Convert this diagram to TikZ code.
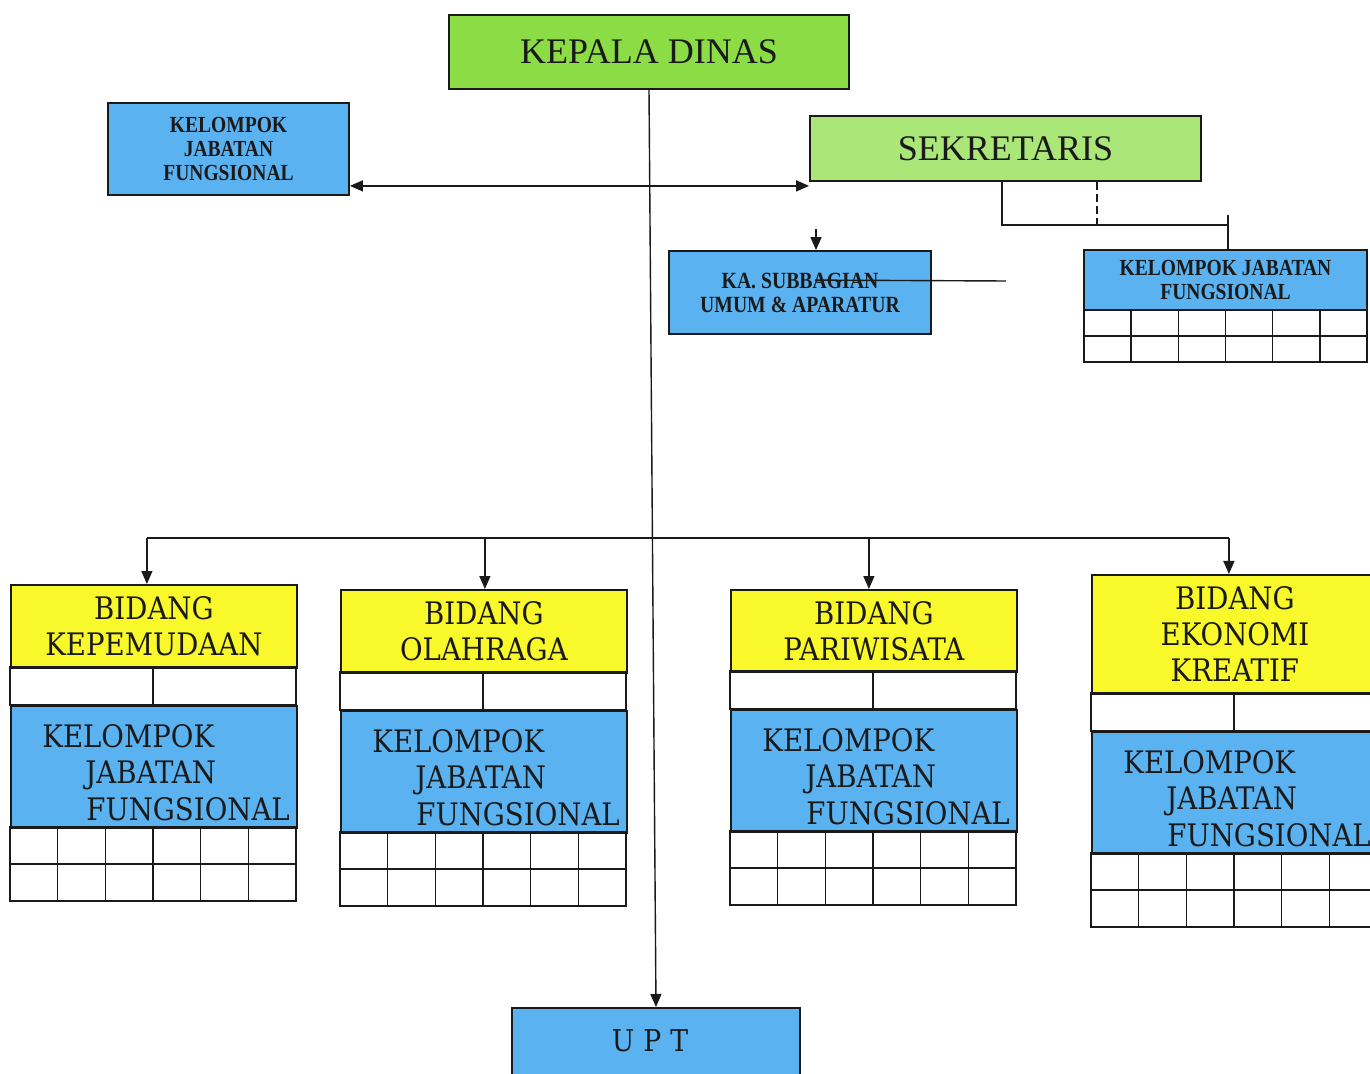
\documentclass[tikz,border=0pt]{standalone}
\usepackage{fontspec}
\setmainfont{Liberation Serif}
\newfontfamily\schfont[FakeStretch=0.89]{DejaVu Serif}
\newfontfamily\condbold[FakeStretch=0.85]{Liberation Serif Bold}
\usetikzlibrary{arrows.meta,calc}
\definecolor{kgreen}{HTML}{8CDC46}
\definecolor{sgreen}{HTML}{AAE678}
\definecolor{kblue}{HTML}{5AB2F0}
\definecolor{kyellow}{HTML}{F8F82A}
\definecolor{ink}{HTML}{1A1A1A}
\tikzset{
  box/.style={draw=ink, line width=0.9pt, inner sep=0pt, align=center, text=ink},
  smallbold/.style={font=\condbold\fontsize{11.5}{12}\selectfont},
  bidhead/.style={box, fill=kyellow, minimum width=143pt, font=\schfont\fontsize{15.5}{18}\selectfont},
  jfbox/.style={box, fill=kblue},
  jftext/.style={inner sep=0pt, text=ink, font=\schfont\fontsize{15.5}{18}\selectfont},
  cell/.style={draw=ink, line width=0.7pt},
  conn/.style={draw=ink, line width=0.7pt},
}
\newcommand\jfgrid[4]{%
  \draw[cell] (#1,#2) rectangle (#3,#4);
  \draw[cell] (#1,{(#2+#4)/2}) -- (#3,{(#2+#4)/2});
  \foreach \k in {1,...,5} \draw[cell] ({#1+\k*(#3-#1)/6},#2) -- ({#1+\k*(#3-#1)/6},#4);
}
\newcommand\bidang[5]{%
  \node[bidhead, minimum height={(#4-#3)*0.5pt}, anchor=north west] (#1) at (#2,#3) {#5};
  \draw[cell] (#2,#4) rectangle ({#2+286},{#4+38});
  \draw[cell] ({#2+143},#4) -- ({#2+143},{#4+38});
  \node[jfbox, minimum width=143pt, minimum height=61pt, anchor=north west] (#1j) at (#2,{#4+38}) {};
  \node[jftext, anchor=base west] (#1a) at ({#2+32},{#4+80}) {KELOMPOK};
  \node[jftext, anchor=base west] (#1b) at ({#2+75},{#4+116}) {JABATAN};
  \node[jftext, anchor=base west] (#1c) at ({#2+76},{#4+153}) {FUNGSIONAL};
  \jfgrid{#2}{#4+160}{#2+286}{#4+234}
}
\begin{document}
\begin{tikzpicture}[x=0.5pt,y=-0.5pt, >={Triangle[length=6.5pt,width=5.5pt]}]
\useasboundingbox (0,0) rectangle (1370,1074);
\fill[white] (0,0) rectangle (1370,1074);

% top level
\node[box, fill=kgreen, minimum width=200pt, minimum height=37pt, font=\fontsize{18}{20}\selectfont] (kd) at (649,52) {KEPALA DINAS};
\node[box, fill=kblue, minimum width=120.5pt, minimum height=46pt, smallbold] (kjfL) at (228.5,149) {KELOMPOK\\JABATAN\\FUNGSIONAL};
\node[box, fill=sgreen, minimum width=195.5pt, minimum height=32.5pt, font=\fontsize{18}{20}\selectfont] (sek) at (1005.5,148.5) {SEKRETARIS};
\node[box, fill=kblue, minimum width=131pt, minimum height=41.5pt, font=\condbold\fontsize{11.6}{12}\selectfont] (ksub) at (800,292.5) {KA. SUBBAGIAN\\UMUM \& APARATUR};
\node[box, fill=kblue, minimum width=141.5pt, minimum height=30pt, smallbold] (kjfR) at (1225.5,280) {KELOMPOK JABATAN\\FUNGSIONAL};
\jfgrid{1084}{310}{1367}{362}

% UPT
\node[box, fill=kblue, minimum width=144pt, minimum height=50pt, anchor=north] (upt) at (656,1007) {};
\node[inner sep=0pt, text=ink, font=\schfont\fontsize{15}{18}\selectfont, anchor=base] (upttext) at (650,1051) {U\hspace{0.3em}P\hspace{0.3em}T};

% bidang
\bidang{b1}{10}{584}{667}{BIDANG\\KEPEMUDAAN}
\bidang{b2}{340}{589}{672}{BIDANG\\OLAHRAGA}
\bidang{b3}{730}{589}{671}{BIDANG\\PARIWISATA}
\bidang{b4}{1091}{574}{693}{BIDANG\\EKONOMI\\KREATIF}

% connectors
\draw[conn,->] (kd.south) -- (upt.north);
\draw[conn,<->] ([yshift=-2pt]kjfL.east |- sek.south west) -- ([yshift=-2pt]sek.south west);
\draw[conn,->] ([xshift=8pt,yshift=10.5pt]ksub.north) -- ([xshift=8pt]ksub.north);
\coordinate (strikeEnd) at (1006,281);
\draw[conn] ([xshift=7.5pt,yshift=-15pt]ksub.north) -- (strikeEnd);
\coordinate (sj) at (1228,225);
\draw[conn] ([xshift=-1.75pt]sek.south) |- (sj);
\draw[conn] ([xshift=1.25pt,yshift=17pt]kjfR.north) -- ([xshift=1.25pt]kjfR.north);
\draw[conn, line width=1.2pt, dash pattern=on 4pt off 2pt] ([xshift=45.75pt]sek.south) -- ++(0,44);

\coordinate (bus) at (649,538);
\draw[conn] ([xshift=-3.5pt]b1.north |- bus) -- ([xshift=-3pt]b4.north |- bus);
\draw[conn,->] ([xshift=-3.5pt]b1.north |- bus) -- ([xshift=-3.5pt]b1.north);
\draw[conn,->] ([xshift=0.5pt]b2.north |- bus) -- ([xshift=0.5pt]b2.north);
\draw[conn,->] ([xshift=-2.5pt]b3.north |- bus) -- ([xshift=-2.5pt]b3.north);
\draw[conn,->] ([xshift=-3pt]b4.north |- bus) -- ([xshift=-3pt]b4.north);
\end{tikzpicture}
\end{document}
